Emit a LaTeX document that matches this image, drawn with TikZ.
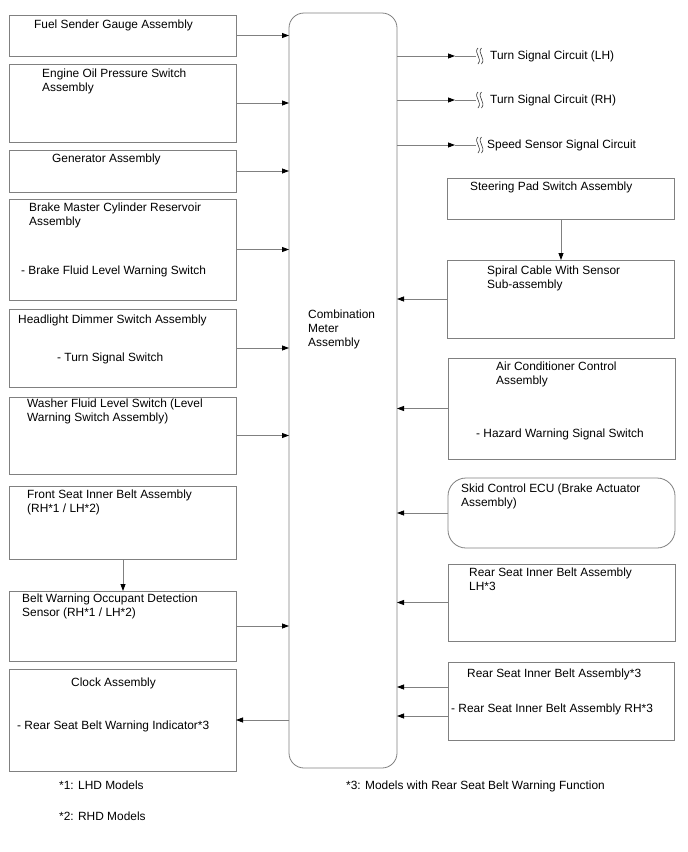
\documentclass[tikz,border=0pt]{standalone}
\usepackage{fontspec}
\setmainfont{Liberation Sans}
\usetikzlibrary{arrows.meta,calc}
\definecolor{lc}{RGB}{128,128,128}
\begin{document}
\begin{tikzpicture}[x=1pt,y=-1pt,
  box/.style={draw=lc, line width=0.8pt, inner sep=0, outer sep=0, anchor=north west},
  txt/.style={inner sep=0, anchor=north west, align=left, font=\fontsize{11.9}{14}\selectfont},
  arr/.style={draw=lc, line width=0.8pt, -{Triangle[length=7pt,width=5pt,color=black]}},
  ln/.style={draw=lc, line width=0.8pt},
  sq/.style={draw=black!80, line width=0.6pt}]
\fill[white] (0,0) rectangle (688,852);
\useasboundingbox (0,0) rectangle (688,852);

% left boxes
\node[box, minimum width=227, minimum height=41] (fuel) at (9,15) {};
\node[box, minimum width=227, minimum height=78] (engine) at (9,64) {};
\node[box, minimum width=227, minimum height=42] (gen) at (9,150) {};
\node[box, minimum width=227, minimum height=101] (brake) at (9,199) {};
\node[box, minimum width=227, minimum height=78] (head) at (9,309) {};
\node[box, minimum width=227, minimum height=77] (washer) at (9,397) {};
\node[box, minimum width=227, minimum height=73] (front) at (9,486) {};
\node[box, minimum width=227, minimum height=70] (belt) at (9,591) {};
\node[box, minimum width=227, minimum height=102] (clock) at (9,669) {};

% center
\node[box, rounded corners=15, minimum width=108, minimum height=755] (cm) at (289,13) {};

% right boxes
\node[box, minimum width=227, minimum height=41] (steer) at (447,178) {};
\node[box, minimum width=227, minimum height=78] (spiral) at (447,260) {};
\node[box, minimum width=227, minimum height=101] (air) at (448,358) {};
\node[box, rounded corners=18, minimum width=227, minimum height=70] (skid) at (448,478) {};
\node[box, minimum width=227, minimum height=77] (rlh) at (448,564) {};
\node[box, minimum width=226, minimum height=78] (rr) at (448,662) {};

% texts
\node[txt] (fuelt) at (34,20) {Fuel Sender Gauge Assembly};
\node[txt] (enginet) at (42,69) {Engine Oil Pressure Switch\\Assembly};
\node[txt] (gent) at (52,154) {Generator Assembly};
\node[txt] (braket) at (29,203) {Brake Master Cylinder Reservoir\\Assembly};
\node[txt] (braket2) at (21,266) {- Brake Fluid Level Warning Switch};
\node[txt] (headt) at (18,315) {Headlight Dimmer Switch Assembly};
\node[txt] (headt2) at (57,353) {- Turn Signal Switch};
\node[txt] (washert) at (27,399) {Washer Fluid Level Switch (Level\\Warning Switch Assembly)};
\node[txt] (frontt) at (27,490) {Front Seat Inner Belt Assembly\\(RH*1 / LH*2)};
\node[txt] (beltt) at (22,594) {Belt Warning Occupant Detection\\Sensor (RH*1 / LH*2)};
\node[txt] (clockt) at (71,678) {Clock Assembly};
\node[txt] (clockt2) at (17,721) {- Rear Seat Belt Warning Indicator*3};
\node[txt] (cmt) at (308,310) {Combination\\Meter\\Assembly};
\node[txt] (steert) at (470,182) {Steering Pad Switch Assembly};
\node[txt] (spiralt) at (487,266) {Spiral Cable With Sensor\\Sub-assembly};
\node[txt] (airt) at (496,362) {Air Conditioner Control\\Assembly};
\node[txt] (airt2) at (476,429) {- Hazard Warning Signal Switch};
\node[txt] (skidt) at (461,484) {Skid Control ECU (Brake Actuator\\Assembly)};
\node[txt] (rlht) at (469,568) {Rear Seat Inner Belt Assembly\\LH*3};
\node[txt] (rrt) at (467,669) {Rear Seat Inner Belt Assembly*3};
\node[txt] (rrt2) at (451,704) {- Rear Seat Inner Belt Assembly RH*3};

% right-top circuits
\node[txt, anchor=west] (c1) at (490,56) {Turn Signal Circuit (LH)};
\node[txt, anchor=west] (c2) at (490,100) {Turn Signal Circuit (RH)};
\node[txt, anchor=west] (c3) at (487,145) {Speed Sensor Signal Circuit};

% footnotes
\node[txt] (f1) at (59,781) {*1: LHD Models};
\node[txt] (f2) at (59,812) {*2: RHD Models};
\node[txt] (f3) at (346,781) {*3: Models with Rear Seat Belt Warning Function};

% left connectors
\foreach \b in {fuel,engine,gen,brake,head,washer,belt}
  \draw[arr] (\b.east) -- (\b.east -| cm.west);
\draw[arr] (clock.east -| cm.west) -- (clock.east);
\draw[arr] (front.south -| 123,0) -- (belt.north -| 123,0);

% right connectors
\draw[arr] (steer.south -| 561,0) -- (spiral.north -| 561,0);
\foreach \b in {spiral,air,skid,rlh}
  \draw[arr] (\b.west) -- (\b.west -| cm.east);
\draw[arr] ([yshift=14pt]rr.west) -- ([yshift=14pt]rr.west -| cm.east);
\draw[arr] ([yshift=-15pt]rr.west) -- ([yshift=-15pt]rr.west -| cm.east);

% break connectors
\foreach \i/\y in {1/56,2/100,3/145}{
  \coordinate (m\i) at (455,\y);
  \coordinate (b\i) at (476,\y);
  \draw[arr] (cm.east |- m\i) -- (m\i);
  \draw[ln] (m\i) -- (b\i);
  \draw[sq] ($(b\i)+(2,-8)$) .. controls ($(b\i)+(-3,-3)$) and ($(b\i)+(7,2)$) .. ($(b\i)+(2,8)$);
  \draw[sq] ($(b\i)+(5.5,-8)$) .. controls ($(b\i)+(0.5,-3)$) and ($(b\i)+(10.5,2)$) .. ($(b\i)+(5.5,8)$);
}
\end{tikzpicture}
\end{document}
